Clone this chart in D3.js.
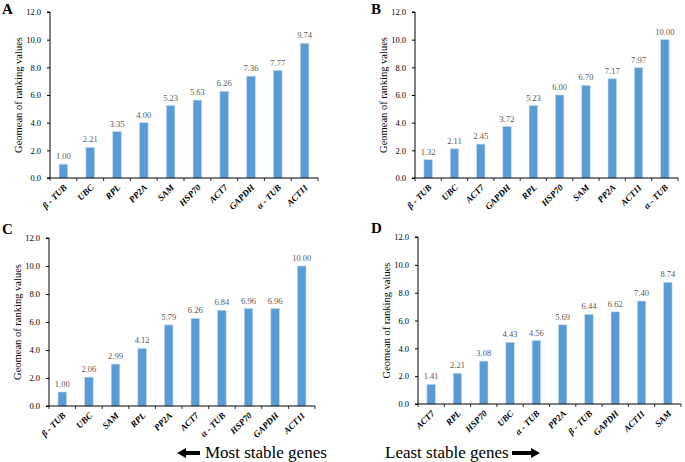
<!DOCTYPE html>
<html>
<head>
<meta charset="utf-8">
<script src="https://cdn.jsdelivr.net/npm/d3@7"></script>
<style>
  body { margin: 0; background: #fff; }
  svg { display: block; }
  text { font-family: "Liberation Serif", "Times New Roman", serif; }
</style>
</head>
<body>
<svg id="chart" width="685" height="462"></svg>
<script>
'use strict';

// data
var genesA = ['β - TUB', 'UBC', 'RPL', 'PP2A', 'SAM', 'HSP70', 'ACT7', 'GAPDH', 'α - TUB', 'ACT11'];
var valuesA = [1.00, 2.21, 3.35, 4.00, 5.23, 5.63, 6.26, 7.36, 7.77, 9.74];

var genesB = ['β - TUB', 'UBC', 'ACT7', 'GAPDH', 'RPL', 'HSP70', 'SAM', 'PP2A', 'ACT11', 'α - TUB'];
var valuesB = [1.32, 2.11, 2.45, 3.72, 5.23, 6.00, 6.70, 7.17, 7.97, 10.00];

var genesC = ['β - TUB', 'UBC', 'SAM', 'RPL', 'PP2A', 'ACT7', 'α - TUB', 'HSP70', 'GAPDH', 'ACT11'];
var valuesC = [1.00, 2.06, 2.99, 4.12, 5.79, 6.26, 6.84, 6.96, 6.96, 10.00];

var genesD = ['ACT7', 'RPL', 'HSP70', 'UBC', 'α - TUB', 'PP2A', 'β - TUB', 'GAPDH', 'ACT11', 'SAM'];
var valuesD = [1.41, 2.21, 3.08, 4.43, 4.56, 5.69, 6.44, 6.62, 7.40, 8.74];

var yTicks = [0, 2, 4, 6, 8, 10, 12];

var panels = [
    { letter: 'A', genes: genesA, values: valuesA, x0: 50, x1: 318, yTop: 12, yBot: 178, lx: 2, ly: 14 },
    { letter: 'B', genes: genesB, values: valuesB, x0: 415, x1: 678, yTop: 12, yBot: 178, lx: 371, ly: 14 },
    { letter: 'C', genes: genesC, values: valuesC, x0: 49, x1: 315, yTop: 238, yBot: 406, lx: 2, ly: 234 },
    { letter: 'D', genes: genesD, values: valuesD, x0: 418, x1: 681, yTop: 237, yBot: 404, lx: 371, ly: 233 }
];

var svg = d3.select('#chart');
var barColor = '#5b9bd5';

panels.forEach(function (p) {
    var g = svg.append('g');

    var x = d3.scaleBand().domain(p.genes).range([p.x0, p.x1]).paddingInner(0.68).paddingOuter(0.34);
    var y = d3.scaleLinear().domain([0, 12]).range([p.yBot, p.yTop]);

    // bars
    g.selectAll('.bar')
        .data(p.values)
        .enter()
        .append('rect')
        .attr('class', 'bar')
        .attr('x', function (d, i) { return x(p.genes[i]); })
        .attr('y', function (d) { return y(d); })
        .attr('width', x.bandwidth())
        .attr('height', function (d) { return y(0) - y(d); })
        .style('fill', barColor)
        .style('stroke', '#bdd7ee')
        .style('stroke-width', 0.6);

    // value labels
    g.selectAll('.val')
        .data(p.values)
        .enter()
        .append('text')
        .attr('class', 'val')
        .attr('x', function (d, i) { return x(p.genes[i]) + x.bandwidth() / 2; })
        .attr('y', function (d) { return y(d) - 5; })
        .attr('text-anchor', 'middle')
        .style('font-size', '8.5px')
        .style('fill', '#595959')
        .text(function (d) { return d.toFixed(2); });

    // y axis
    var yAxis = d3.axisLeft(y).tickValues(yTicks).tickSize(3).tickPadding(6)
        .tickFormat(function (d) { return d.toFixed(1); });
    var ya = g.append('g').attr('transform', 'translate(' + p.x0 + ',0)').call(yAxis);
    ya.select('.domain').attr('d', 'M-3,' + p.yTop + 'H0V' + p.yBot + 'H-3');
    ya.selectAll('text').style('font-size', '8.5px').style('fill', '#000')
        .style('font-family', '"Liberation Serif", serif');

    // x axis: ticks at category boundaries like the spreadsheet chart
    var bounds = d3.range(p.genes.length + 1).map(function (i) { return p.x0 + i * (p.x1 - p.x0) / p.genes.length; });
    g.append('line')
        .attr('x1', p.x0).attr('x2', p.x1)
        .attr('y1', p.yBot).attr('y2', p.yBot)
        .style('stroke', '#000').style('stroke-width', 1);
    g.selectAll('.xtick')
        .data(bounds)
        .enter()
        .append('line')
        .attr('class', 'xtick')
        .attr('x1', function (d) { return d; }).attr('x2', function (d) { return d; })
        .attr('y1', p.yBot).attr('y2', p.yBot + 3)
        .style('stroke', '#000').style('stroke-width', 0.8);

    // rotated gene names
    g.selectAll('.gene')
        .data(p.genes)
        .enter()
        .append('text')
        .attr('class', 'gene')
        .attr('transform', function (d) {
            return 'translate(' + (x(d) + x.bandwidth() / 2 + 4) + ',' + (p.yBot + 10) + ') rotate(-45)';
        })
        .attr('text-anchor', 'end')
        .style('font-size', '9px')
        .style('font-weight', 'bold')
        .style('font-style', 'italic')
        .text(function (d) { return d; });

    // y title
    g.append('text')
        .attr('transform', 'translate(' + (p.x0 - 28) + ',' + ((p.yTop + p.yBot) / 2) + ') rotate(-90)')
        .attr('text-anchor', 'middle')
        .style('font-size', '10.5px')
        .text('Geomean of ranking values');

    // panel letter
    g.append('text')
        .attr('x', p.lx).attr('y', p.ly)
        .style('font-size', '15px')
        .style('font-weight', 'bold')
        .text(p.letter);
});

// bottom captions with arrows
svg.append('path')
    .attr('d', 'M177,453 L186,448 L186,451 L200,451 L200,455 L186,455 L186,458 Z')
    .style('fill', '#000');
svg.append('text')
    .attr('x', 205).attr('y', 458)
    .style('font-size', '17px')
    .text('Most stable genes');

svg.append('text')
    .attr('x', 385).attr('y', 458)
    .style('font-size', '17px')
    .text('Least stable genes');
svg.append('path')
    .attr('d', 'M540,453 L531,448 L531,451 L512,451 L512,455 L531,455 L531,458 Z')
    .style('fill', '#000');
</script>
</body>
</html>
